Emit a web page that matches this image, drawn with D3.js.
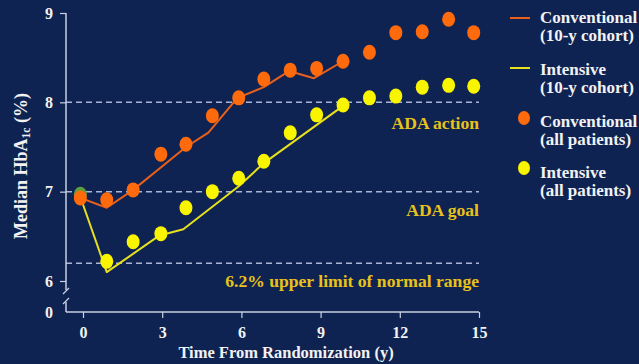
<!DOCTYPE html>
<html>
<head>
<meta charset="utf-8">
<script src="https://cdn.jsdelivr.net/npm/d3@7"></script>
<style>
  html, body { margin: 0; padding: 0; background: #0f2352; }
  svg { display: block; font-family: "Liberation Serif", "Times New Roman", serif; font-weight: bold; }
</style>
</head>
<body>
<div id="vis"></div>
<script>
// Median HbA1c over time, UKPDS style chart

const lineYearsConv = [-0.1, 0.9, 1.9, 2.9, 3.9, 4.75, 5.85, 6.85, 7.8, 8.75, 9.85]
const convCohort = [6.93, 6.82, 7.02, 7.26, 7.50, 7.66, 8.05, 8.17, 8.35, 8.27, 8.46]

const lineYearsInt = [-0.1, 0.9, 2.9, 3.8, 5.9, 6.85, 9.85]
const intCohort = [6.94, 6.10, 6.51, 6.58, 7.06, 7.32, 7.96]

const dotYears = [-0.1, 0.9, 1.9, 2.95, 3.9, 4.9, 5.9, 6.85, 7.85, 8.85, 9.85, 10.85, 11.85, 12.85, 13.85, 14.8]
const convAll = [6.93, 6.91, 7.02, 7.42, 7.53, 7.85, 8.05, 8.26, 8.36, 8.38, 8.46, 8.56, 8.78, 8.79, 8.93, 8.78]
const intAll = [6.97, 6.22, 6.44, 6.53, 6.82, 7.00, 7.15, 7.34, 7.66, 7.86, 7.97, 8.05, 8.07, 8.17, 8.19, 8.18]

const xTicks = [0, 3, 6, 9, 12, 15]
const yTicks = [0, 6, 7, 8, 9]

const refValues = [8, 7, 6.2]
const refLabels = ['ADA action', 'ADA goal', '6.2% upper limit of normal range']

const legendLabels = [
    ['Conventional', '(10-y cohort)'],
    ['Intensive', '(10-y cohort)'],
    ['Conventional', '(all patients)'],
    ['Intensive', '(all patients)']
]

const W = 639, H = 364
const orangeLine = '#e8601c', yellowLine = '#e6e01e'
const orangeDot = '#ff6a0c', yellowDot = '#f9f500'
const gold = '#e8c21a', axisCol = '#c9d0e0', dashCol = '#aab6d6'

let svg = d3.select('#vis').append('svg')
    .attr('width', W)
    .attr('height', H)

svg.append('rect').attr('width', W).attr('height', H).attr('fill', '#0f2352')

const x = d3.scaleLinear().domain([0, 15]).range([83, 479])
// broken axis: 0 sits just below 6
const y = d3.scaleLinear().domain([0, 6, 9]).range([312, 281, 13])
const axisX = 66

// reference dashed lines
svg.selectAll('.ref-line')
    .data(refValues)
    .enter()
    .append('line')
    .attr('class', 'ref-line')
    .attr('x1', axisX).attr('x2', x(15))
    .attr('y1', d => y(d)).attr('y2', d => y(d))
    .attr('stroke', dashCol)
    .attr('stroke-width', 1.5)
    .attr('stroke-dasharray', '6,4')

svg.selectAll('.ref-text')
    .data(refValues)
    .enter()
    .append('text')
    .attr('class', 'ref-text')
    .attr('x', x(15))
    .attr('y', (d, i) => y(d) + (i === 0 ? 27 : 24))
    .attr('text-anchor', 'end')
    .attr('fill', gold)
    .attr('font-size', 17.6)
    .text((d, i) => refLabels[i])

// axes
let xAxis = svg.append('g')
    .attr('transform', 'translate(0,' + y(0) + ')')
    .call(d3.axisBottom(x).tickValues(xTicks).tickSize(6).tickPadding(9).tickSizeOuter(0))
xAxis.select('.domain').remove()
xAxis.append('line')
    .attr('x1', axisX).attr('x2', x(15)).attr('y1', 0).attr('y2', 0)
    .attr('stroke', axisCol).attr('stroke-width', 1.5)
xAxis.selectAll('.tick line').attr('stroke', axisCol).attr('stroke-width', 1.2)
xAxis.selectAll('.tick text')
    .attr('fill', '#f2f2f2')
    .attr('font-size', 16)
    .attr('font-family', '"Liberation Serif", serif')
    .attr('font-weight', 'bold')

let yAxis = svg.append('g')
    .attr('transform', 'translate(' + axisX + ',0)')
    .call(d3.axisLeft(y).tickValues(yTicks).tickSize(6).tickPadding(7).tickSizeOuter(0))
yAxis.select('.domain').remove()
yAxis.selectAll('.tick').filter(d => d === 0).select('line').remove()
yAxis.selectAll('.tick line').attr('stroke', axisCol).attr('stroke-width', 1.2)
yAxis.selectAll('.tick text')
    .attr('fill', '#f2f2f2')
    .attr('font-size', 16)
    .attr('font-family', '"Liberation Serif", serif')
    .attr('font-weight', 'bold')

// y axis line with break marks
yAxis.append('line').attr('x1', 0).attr('x2', 0).attr('y1', y(9)).attr('y2', 290)
    .attr('stroke', axisCol).attr('stroke-width', 1.5)
yAxis.append('line').attr('x1', 0).attr('x2', 0).attr('y1', 302).attr('y2', y(0))
    .attr('stroke', axisCol).attr('stroke-width', 1.5)
yAxis.append('line').attr('x1', -3).attr('x2', 3).attr('y1', 294).attr('y2', 288)
    .attr('stroke', axisCol).attr('stroke-width', 1.2)
yAxis.append('line').attr('x1', -3).attr('x2', 3).attr('y1', 304).attr('y2', 298)
    .attr('stroke', axisCol).attr('stroke-width', 1.2)

// axis titles
svg.append('text')
    .attr('x', 286).attr('y', 358)
    .attr('text-anchor', 'middle')
    .attr('fill', '#f2f2f2')
    .attr('font-size', 16.5)
    .text('Time From Randomization (y)')

let yTitle = svg.append('text')
    .attr('transform', 'translate(27,166) rotate(-90)')
    .attr('text-anchor', 'middle')
    .attr('fill', '#f2f2f2')
    .attr('font-size', 18)
yTitle.append('tspan').text('Median HbA')
yTitle.append('tspan').attr('font-size', 11.5).attr('dy', 3).text('1c')
yTitle.append('tspan').attr('dy', -3).text(' (%)')

// cohort lines
const line = d3.line()
    .x(d => x(d[0]))
    .y(d => y(d[1]))

svg.append('path')
    .datum(lineYearsConv.map((t, i) => [t, convCohort[i]]))
    .attr('fill', 'none')
    .attr('stroke', orangeLine)
    .attr('stroke-width', 2)
    .attr('stroke-linejoin', 'round')
    .attr('d', line)

svg.append('path')
    .datum(lineYearsInt.map((t, i) => [t, intCohort[i]]))
    .attr('fill', 'none')
    .attr('stroke', yellowLine)
    .attr('stroke-width', 2)
    .attr('stroke-linejoin', 'round')
    .attr('d', line)

// all patients dots
svg.selectAll('.int-dot')
    .data(intAll)
    .enter()
    .append('ellipse')
    .attr('class', 'int-dot')
    .attr('cx', (d, i) => x(dotYears[i]))
    .attr('cy', d => y(d))
    .attr('rx', 6.5).attr('ry', 7.5)
    .attr('fill', (d, i) => i === 0 ? '#5f9e3c' : yellowDot)

svg.selectAll('.conv-dot')
    .data(convAll)
    .enter()
    .append('ellipse')
    .attr('class', 'conv-dot')
    .attr('cx', (d, i) => x(dotYears[i]))
    .attr('cy', d => y(d))
    .attr('rx', 6.5).attr('ry', 7.5)
    .attr('fill', orangeDot)

// legend
const legendTop = [23, 75, 127, 178]
let legend = svg.append('g')

legend.selectAll('.leg-text')
    .data(legendLabels)
    .enter()
    .append('text')
    .attr('class', 'leg-text')
    .attr('x', 540)
    .attr('y', (d, i) => legendTop[i])
    .attr('fill', '#f2f2f2')
    .attr('font-size', 17)
    .each(function (d) {
        d3.select(this).append('tspan').attr('x', 540).text(d[0])
        d3.select(this).append('tspan').attr('x', 540).attr('dy', 18).text(d[1])
    })

legend.append('line').attr('x1', 510).attr('x2', 530).attr('y1', 18).attr('y2', 18)
    .attr('stroke', orangeLine).attr('stroke-width', 2)
legend.append('line').attr('x1', 510).attr('x2', 530).attr('y1', 68).attr('y2', 68)
    .attr('stroke', yellowLine).attr('stroke-width', 2)
legend.append('ellipse').attr('cx', 524).attr('cy', 118).attr('rx', 6).attr('ry', 7)
    .attr('fill', orangeDot)
legend.append('ellipse').attr('cx', 524).attr('cy', 168).attr('rx', 6).attr('ry', 7)
    .attr('fill', yellowDot)
</script>
</body>
</html>
